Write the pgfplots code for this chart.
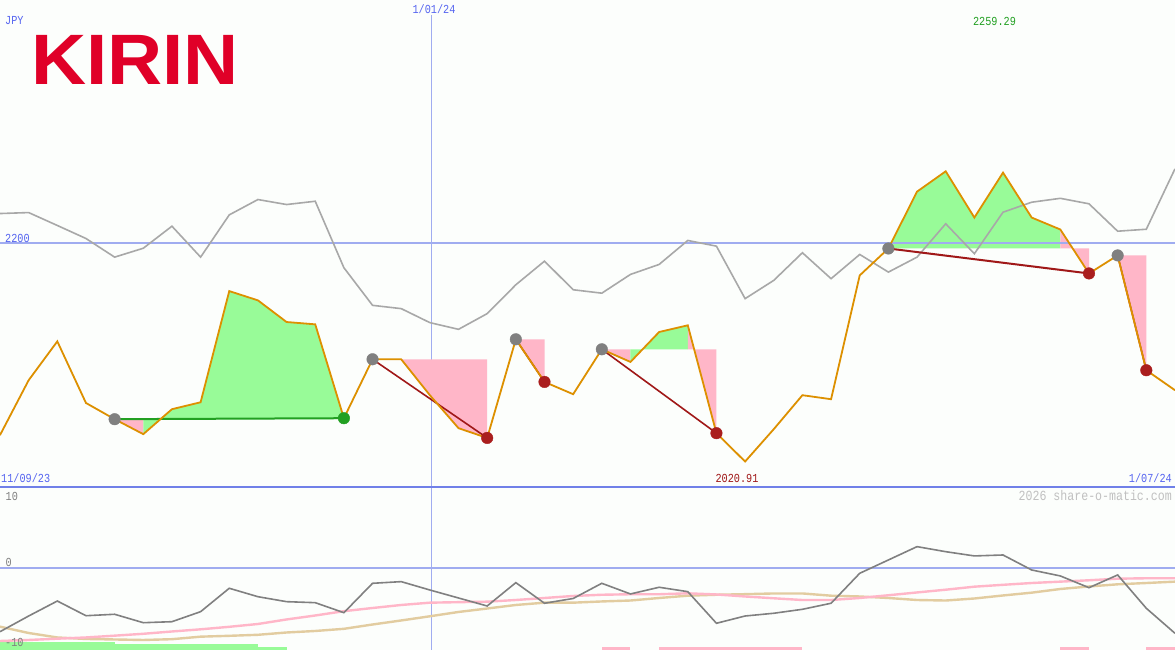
\documentclass[border=0pt]{standalone}
\usepackage{pgfplots}
\pgfplotsset{compat=1.18}
\usepackage{fontspec}
\setmainfont{Liberation Sans}
\newfontfamily\mono{Liberation Mono}
\definecolor{bg}{RGB}{252,254,252}
\definecolor{orangeL}{RGB}{221,144,0}
\definecolor{grayTop}{RGB}{168,168,168}
\definecolor{grayBot}{RGB}{128,128,128}
\definecolor{pinkL}{RGB}{255,182,200}
\definecolor{tanL}{RGB}{226,204,160}
\definecolor{greenF}{RGB}{152,251,152}
\definecolor{pinkF}{RGB}{255,182,200}
\definecolor{darkredL}{RGB}{160,24,24}
\definecolor{reddot}{RGB}{170,30,30}
\definecolor{greendot}{RGB}{34,160,34}
\definecolor{grayDot}{RGB}{128,128,128}
\definecolor{blueLbl}{RGB}{85,100,240}
\definecolor{lineBlue}{RGB}{160,172,240}
\definecolor{borderBlue}{RGB}{112,128,232}
\definecolor{kirinred}{RGB}{224,0,40}
\definecolor{wmgray}{RGB}{192,192,192}
\newcommand\lbl[1]{\scalebox{1}[1.2]{\mono\fontsize{10.2}{12}\selectfont #1}}

\pgfplotstableread{
idx price peer
0 2042.6 2224.6
1 2087.7 2225.4
2 2119.6 2214.8
3 2069.0 2204.1
4 2055.7 2188.8
5 2043.4 2196.1
6 2063.9 2214.2
7 2069.6 2188.8
8 2160.9 2223.5
9 2153.3 2236.1
10 2135.5 2232.0
11 2133.6 2234.7
12 2056.5 2180.1
13 2104.9 2149.2
14 2104.9 2146.5
15 2075.4 2135.0
16 2048.3 2129.5
17 2040.3 2142.4
18 2121.3 2166.1
19 2086.3 2185.5
20 2076.2 2162.0
21 2113.1 2159.2
22 2102.7 2174.6
23 2127.3 2182.8
24 2132.8 2202.5
25 2044.2 2197.8
26 2020.91 2154.7
27 2047.5 2169.7
28 2075.4 2192.4
29 2072.1 2171.1
30 2173.8 2191.0
31 2195.9 2176.5
32 2242.6 2188.8
33 2259.29 2216.2
34 2221.3 2191.6
35 2258.2 2225.7
36 2221.3 2233.9
37 2211.5 2237.1
38 2175.4 2232.6
39 2190.2 2210.1
40 2095.9 2211.7
41 2079.5 2261.3
}\pricetable

\pgfplotstableread{
idx mom pinkv tanv
0 -8.89 -10.18 -8.19
1 -6.71 -10.04 -9.07
2 -4.63 -9.86 -9.69
3 -6.67 -9.69 -9.90
4 -6.47 -9.44 -9.97
5 -7.64 -9.18 -10.04
6 -7.50 -8.86 -9.93
7 -6.11 -8.56 -9.58
8 -2.86 -8.21 -9.46
9 -4.03 -7.82 -9.32
10 -4.72 -7.19 -9.00
11 -4.86 -6.64 -8.79
12 -6.25 -6.04 -8.49
13 -2.17 -5.60 -7.89
14 -1.94 -5.18 -7.33
15 -3.10 -4.86 -6.75
16 -4.21 -4.79 -6.15
17 -5.32 -4.72 -5.67
18 -2.08 -4.49 -5.18
19 -4.94 -4.21 -4.86
20 -4.28 -3.93 -4.86
21 -2.17 -3.76 -4.69
22 -3.65 -3.69 -4.56
23 -2.72 -3.69 -4.21
24 -3.33 -3.56 -3.89
25 -7.72 -3.72 -3.76
26 -6.71 -4.00 -3.68
27 -6.33 -4.25 -3.58
28 -5.78 -4.49 -3.58
29 -4.94 -4.49 -3.89
30 -0.78 -4.21 -4.00
31 1.07 -3.83 -4.21
32 2.92 -3.44 -4.49
33 2.22 -3.06 -4.56
34 1.63 -2.64 -4.28
35 1.76 -2.38 -3.86
36 -0.32 -2.13 -3.47
37 -1.15 -1.94 -2.96
38 -2.78 -1.75 -2.61
39 -1.01 -1.53 -2.31
40 -5.64 -1.47 -2.13
41 -9.11 -1.47 -1.94
}\momtable

\begin{document}
\begin{tikzpicture}[x=1pt,y=1pt]
\fill[bg] (0,0) rectangle (1175,650);
\useasboundingbox (0,0) rectangle (1175,650);
\draw[lineBlue, line width=1pt] (431,0) -- (431,635);

% ---------- top panel ----------
\begin{axis}[at={(0pt,163pt)}, anchor=south west, scale only axis,
  width=1175pt, height=487pt, xmin=0, xmax=41, ymin=2000, ymax=2400,
  axis lines=none, clip=true]
% trade 1 (win)
\addplot[fill=pinkF, draw=none] coordinates {(4,2055.7)(5,2043.4)(5,2055.7)} -- cycle;
\addplot[fill=greenF, draw=none] coordinates {(5,2055.7)(5,2043.4)(6,2063.9)(7,2069.6)(8,2160.9)(9,2153.3)(10,2135.5)(11,2133.6)(12,2056.5)(12,2055.7)} -- cycle;
% trade 2
\addplot[fill=pinkF, draw=none] coordinates {(14,2104.9)(15,2075.4)(16,2048.3)(17,2040.3)(17,2104.9)} -- cycle;
% trade 3
\addplot[fill=pinkF, draw=none] coordinates {(18,2121.3)(19,2086.3)(19,2121.3)} -- cycle;
% trade 4
\addplot[fill=pinkF, draw=none] coordinates {(21,2113.1)(22,2102.7)(22,2113.1)} -- cycle;
\addplot[fill=greenF, draw=none] coordinates {(22,2113.1)(22,2102.7)(23,2127.3)(24,2132.8)(24,2113.1)} -- cycle;
\addplot[fill=pinkF, draw=none] coordinates {(24,2113.1)(24,2132.8)(25,2044.2)(25,2113.1)} -- cycle;
% trade 5
\addplot[fill=greenF, draw=none] coordinates {(31,2195.9)(32,2242.6)(33,2259.29)(34,2221.3)(35,2258.2)(36,2221.3)(37,2211.5)(37,2195.9)} -- cycle;
\addplot[fill=pinkF, draw=none] coordinates {(37,2195.9)(37,2211.5)(38,2175.4)(38,2195.9)} -- cycle;
% trade 6
\addplot[fill=pinkF, draw=none] coordinates {(39,2190.2)(40,2095.9)(40,2190.2)} -- cycle;
% reference line
\addplot[lineBlue, line width=2pt] coordinates {(0,2200)(41,2200)};
% peer line
\addplot[grayTop, line width=1.6pt] table[x=idx, y=peer] {\pricetable};
% trade lines
\addplot[greendot, line width=2pt] coordinates {(4,2055.7)(12,2056.5)};
\addplot[darkredL, line width=1.6pt] coordinates {(13,2104.9)(17,2040.3)};
\addplot[darkredL, line width=1.6pt] coordinates {(18,2121.3)(19,2086.3)};
\addplot[darkredL, line width=1.6pt] coordinates {(21,2113.1)(25,2044.2)};
\addplot[darkredL, line width=2pt] coordinates {(31,2195.9)(38,2175.4)};
\addplot[darkredL, line width=1.6pt] coordinates {(39,2190.2)(40,2095.9)};
% price line
\addplot[orangeL, line width=1.8pt] table[x=idx, y=price] {\pricetable};
% dots
\addplot[only marks, mark=*, mark size=5.8pt, mark options={fill=grayDot, draw=grayDot}]
  coordinates {(4,2055.7)(13,2104.9)(18,2121.3)(21,2113.1)(31,2195.9)(39,2190.2)};
\addplot[only marks, mark=*, mark size=5.8pt, mark options={fill=reddot, draw=reddot}]
  coordinates {(17,2040.3)(19,2086.3)(25,2044.2)(38,2175.4)(40,2095.9)};
\addplot[only marks, mark=*, mark size=5.8pt, mark options={fill=greendot, draw=greendot}]
  coordinates {(12,2056.5)};
\end{axis}

% ---------- bottom panel ----------
\begin{axis}[at={(0pt,0pt)}, anchor=south west, scale only axis,
  width=1175pt, height=163pt, xmin=0, xmax=41, ymin=-11.43, ymax=11.2,
  axis lines=none, clip=true]
\addplot[fill=greenF, draw=none] coordinates {(0,-11.43)(0,-10.28)(4,-10.28)(4,-11.43)} -- cycle;
\addplot[fill=greenF, draw=none] coordinates {(4,-11.43)(4,-10.6)(9,-10.6)(9,-11.43)} -- cycle;
\addplot[fill=greenF, draw=none] coordinates {(9,-11.43)(9,-11.0)(10,-11.0)(10,-11.43)} -- cycle;
\addplot[fill=pinkF, draw=none] coordinates {(21,-11.43)(21,-11.06)(22,-11.06)(22,-11.43)} -- cycle;
\addplot[fill=pinkF, draw=none] coordinates {(23,-11.43)(23,-11.06)(28,-11.06)(28,-11.43)} -- cycle;
\addplot[fill=pinkF, draw=none] coordinates {(37,-11.43)(37,-11.06)(38,-11.06)(38,-11.43)} -- cycle;
\addplot[fill=pinkF, draw=none] coordinates {(40,-11.43)(40,-11.06)(41,-11.06)(41,-11.43)} -- cycle;
\addplot[lineBlue, line width=2pt] coordinates {(0,0)(41,0)};
\addplot[tanL, line width=2.4pt] table[x=idx, y=tanv] {\momtable};
\addplot[pinkL, line width=2.4pt] table[x=idx, y=pinkv] {\momtable};
\addplot[grayBot, line width=1.6pt] table[x=idx, y=mom] {\momtable};
\end{axis}

\draw[borderBlue, line width=2pt] (0,163.3) -- (1175,163.3);

% ---------- labels ----------
\node[anchor=base west, inner sep=0pt, text=kirinred] at (31,565)
  {\scalebox{1.09}[1.02]{\fontsize{70}{70}\selectfont\bfseries KIRIN}};
\node[anchor=west, inner sep=0pt, text=blueLbl] at (5,629) {\lbl{JPY}};
\node[anchor=center, inner sep=0pt, text=blueLbl] at (434,641) {\lbl{1/01/24}};
\node[anchor=center, inner sep=0pt, text=greendot] at (994.5,629) {\lbl{2259.29}};
\node[anchor=west, inner sep=0pt, text=blueLbl] at (5,412) {\lbl{2200}};
\node[anchor=west, inner sep=0pt, text=blueLbl] at (1,171.5) {\lbl{11/09/23}};
\node[anchor=center, inner sep=0pt, text=darkredL] at (737,171.5) {\lbl{2020.91}};
\node[anchor=east, inner sep=0pt, text=blueLbl] at (1172,171.5) {\lbl{1/07/24}};
\node[anchor=east, inner sep=0pt, text=wmgray] at (1172,154) {\scalebox{1}[1.2]{\mono\fontsize{11.6}{13}\selectfont 2026 share-o-matic.com}};
\node[anchor=west, inner sep=0pt, text=grayBot] at (5.5,154) {\lbl{10}};
\node[anchor=west, inner sep=0pt, text=grayBot] at (5.5,88) {\lbl{0}};
\node[anchor=west, inner sep=0pt, text=grayBot] at (5,8) {\lbl{-10}};
\end{tikzpicture}
\end{document}
